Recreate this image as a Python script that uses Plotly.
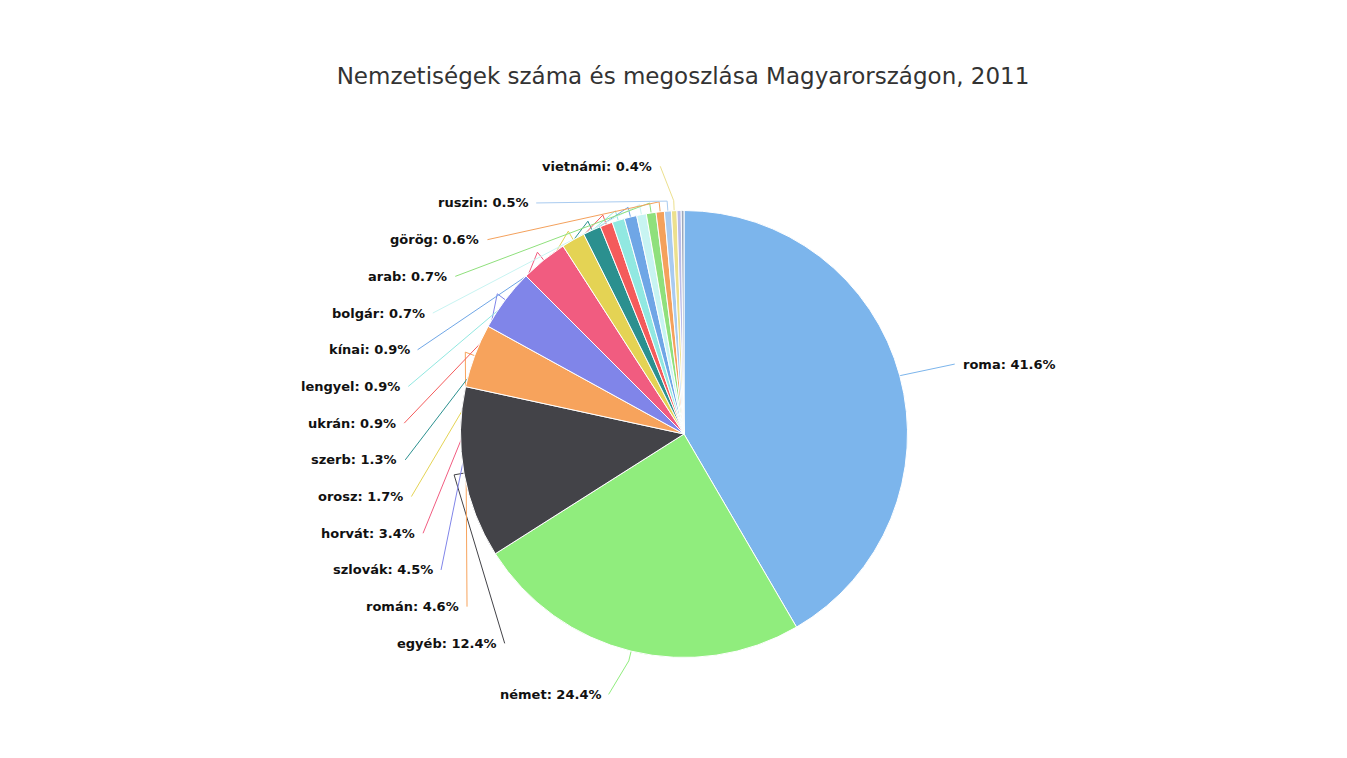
import math

import plotly.graph_objects as go

# nemzetiségek, 2011 (% of all)
labels = ["roma", "német", "egyéb", "román", "szlovák", "horvát", "orosz", "szerb",
          "ukrán", "lengyel", "kínai", "bolgár", "arab", "görög", "ruszin", "vietnámi",
          "örmény", "szlovén"]
values = [41.6, 24.4, 12.4, 4.6, 4.5, 3.4, 1.7, 1.3,
          0.9, 0.9, 0.9, 0.7, 0.7, 0.6, 0.5, 0.4,
          0.3, 0.2]
n_labeled = 16   # last two slices get no data label (too small)

colors = ["#7cb5ec", "#90ed7d", "#434348", "#f7a35c", "#8085e9", "#f15c80", "#e4d354", "#2b908f",
          "#f45b5b", "#91e8e1", "#6fa6e6", "#c8f4f2", "#8fe07c", "#f4a15c", "#a9cbf0", "#ece08e",
          "#b9bbe8", "#9aa8bc"]

W, H = 1347, 758
off = 8                          # page body margin shifts everything by this much
cx, cy, r = 684 - off, 434 - off, 223.5   # pie centre / radius in px
label_r = r + 44.5               # where labels would sit naturally
pad = 18
step = 36.7

fig = go.Figure()

fig.add_trace(go.Pie(
    labels=labels,
    values=values,
    sort=False,
    direction="clockwise",
    rotation=0,
    marker=dict(colors=colors, line=dict(color="#ffffff", width=1)),
    textinfo="none",
    hovertemplate="%{label}: %{percent:.1%}<extra></extra>",
    showlegend=False,
    domain=dict(x=[(cx - r) / W, (cx + r) / W], y=[(H - cy - r) / H, (H - cy + r) / H]),
))

# mid angle of every slice, clockwise from 12 o'clock
total = sum(values)
mids = []
acc = 0
for v in values:
    mids.append((acc + v / 2) / total * 360)
    acc += v

# left column: stack from the top down so labels don't collide
left = [i for i in range(n_labeled) if mids[i] > 180]
right = [i for i in range(n_labeled) if mids[i] <= 180]
ypos = {}
prev = None
for i in sorted(left, key=lambda k: -mids[k]):
    nat = cy - label_r * math.cos(math.radians(mids[i]))
    y = nat if prev is None else max(nat, prev + step)
    ypos[i] = y
    prev = y
for i in right:
    ypos[i] = cy - label_r * math.cos(math.radians(mids[i]))

annotations = []
for i in range(n_labeled):
    is_left = i in left
    y = ypos[i]
    dy = max(-1, min(1, (y - cy) / label_r))
    dx = label_r * math.cos(math.asin(dy)) + pad
    x = cx - dx if is_left else cx + dx
    annotations.append(dict(
        x=x, y=y, xref="x", yref="y",
        text=f"{labels[i]}: {values[i]:.1f}%",
        showarrow=False,
        xanchor="right" if is_left else "left",
        yanchor="middle",
        font=dict(family="DejaVu Sans", size=13, color="#111111", weight="bold"),
    ))
    # connector: label -> crook -> slice edge
    a = math.radians(mids[i])
    ex, ey = cx + r * math.sin(a), cy - r * math.cos(a)
    kx, ky = cx + (r + 10) * math.sin(a), cy - (r + 10) * math.cos(a)
    sx = x + 6 if is_left else x - 6
    fig.add_trace(go.Scatter(
        x=[sx, kx, ex], y=[y, ky, ey],
        mode="lines",
        line=dict(color=colors[i], width=1),
        hoverinfo="skip",
        showlegend=False,
    ))

fig.update_layout(
    width=W, height=H,
    margin=dict(l=0, r=0, t=0, b=0),
    paper_bgcolor="#ffffff",
    plot_bgcolor="rgba(0,0,0,0)",
    xaxis=dict(range=[0, W], visible=False, fixedrange=True, domain=[0, 1]),
    yaxis=dict(range=[H, 0], visible=False, fixedrange=True, domain=[0, 1]),
    annotations=annotations,
    title=dict(
        text="Nemzetiségek száma és megoszlása Magyarországon, 2011",
        x=(683 - off) / W, xanchor="center", y=1 - (76 - off) / H, yanchor="middle",
        font=dict(family="DejaVu Sans", size=23, color="#333333"),
    ),
)

fig.write_html("out.html")
